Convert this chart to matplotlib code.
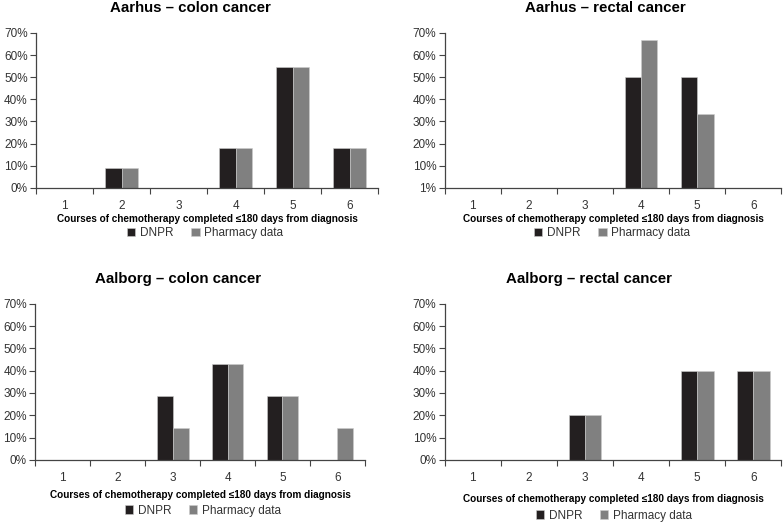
import numpy as np
import matplotlib
matplotlib.use("Agg")
import matplotlib.pyplot as plt

plt.rcParams['font.family'] = ['Liberation Sans', 'DejaVu Sans']

courses = [1, 2, 3, 4, 5, 6]

# percentages
aarhus_colon_dnpr = [0, 9.1, 0, 18.2, 54.5, 18.2]
aarhus_colon_pharm = [0, 9.1, 0, 18.2, 54.5, 18.2]
aarhus_rectal_dnpr = [0, 0, 0, 50.0, 50.0, 0]
aarhus_rectal_pharm = [0, 0, 0, 66.7, 33.3, 0]
aalborg_colon_dnpr = [0, 0, 28.6, 42.9, 28.6, 0]
aalborg_colon_pharm = [0, 0, 14.3, 42.9, 28.6, 14.3]
aalborg_rectal_dnpr = [0, 0, 20.0, 0, 40.0, 40.0]
aalborg_rectal_pharm = [0, 0, 20.0, 0, 40.0, 40.0]

ytick_vals = [0, 10, 20, 30, 40, 50, 60, 70]
ytick_labels = ['0%', '10%', '20%', '30%', '40%', '50%', '60%', '70%']
ytick_labels_typo = ['1%'] + ytick_labels[1:]  # the original panel says 1% at the bottom

xlabel = "Courses of chemotherapy completed \u2264180 days from diagnosis"

panels = [
    # title, dnpr, pharm, axes rect, title pos, yticklabels, legend pos, xlabel pad
    ("Aarhus \u2013 colon cancer", aarhus_colon_dnpr, aarhus_colon_pharm,
     [0.046, 0.640, 0.437, 0.297], (0.243, 0.985), ytick_labels, (0.262, 0.554), 1),
    ("Aarhus \u2013 rectal cancer", aarhus_rectal_dnpr, aarhus_rectal_pharm,
     [0.568, 0.640, 0.430, 0.297], (0.773, 0.985), ytick_labels_typo, (0.782, 0.554), 1),
    ("Aalborg \u2013 colon cancer", aalborg_colon_dnpr, aalborg_colon_pharm,
     [0.045, 0.119, 0.421, 0.299], (0.228, 0.465), ytick_labels, (0.259, 0.022), 4),
    ("Aalborg \u2013 rectal cancer", aalborg_rectal_dnpr, aalborg_rectal_pharm,
     [0.568, 0.119, 0.430, 0.299], (0.752, 0.465), ytick_labels, (0.784, 0.012), 7),
]

dnpr_color = '#231f20'
pharm_color = '#808080'
text_color = '#333333'

fig = plt.figure(figsize=(7.83, 5.22), dpi=100)

for title, dnpr, pharm, rect, tpos, ylabs, lpos, xpad in panels:
    ax = fig.add_axes(rect)
    x = np.arange(len(courses))
    w = 0.29
    b1 = ax.bar(x - w / 2, dnpr, width=w, color=dnpr_color, edgecolor='#cccccc',
                linewidth=0.4, label='DNPR')
    b2 = ax.bar(x + w / 2, pharm, width=w, color=pharm_color, edgecolor='#cccccc',
                linewidth=0.4, label='Pharmacy data')
    ax.set_xlim(-0.5, len(courses) - 0.5)
    ax.set_ylim(0, 70)
    ax.set_yticks(ytick_vals)
    ax.set_yticklabels(ylabs)
    # boundary ticks without labels, labels at the category centres
    ax.set_xticks(np.arange(len(courses) + 1) - 0.5)
    ax.set_xticklabels([])
    ax.set_xticks(x, minor=True)
    ax.set_xticklabels([str(c) for c in courses], minor=True)
    ax.tick_params(axis='x', which='minor', length=0, pad=9, labelsize=8.5,
                   labelcolor=text_color)
    ax.tick_params(axis='x', which='major', length=4, color='#444444')
    ax.tick_params(axis='y', length=4, pad=2, labelsize=8.5,
                   labelcolor=text_color, color='#444444')
    for s in ['top', 'right']:
        ax.spines[s].set_visible(False)
    for s in ['left', 'bottom']:
        ax.spines[s].set_color('#444444')
        ax.spines[s].set_linewidth(0.9)
    ax.set_xlabel(xlabel, fontsize=7.2, fontweight='bold', labelpad=xpad)
    fig.text(tpos[0], tpos[1], title, ha='center', va='center',
             fontsize=10.8, fontweight='bold')
    fig.legend(handles=[b1, b2], loc='center', bbox_to_anchor=lpos, ncol=2,
               frameon=False, fontsize=8.5, handlelength=0.7, handleheight=0.7,
               handletextpad=0.4, columnspacing=1.5, labelcolor=text_color,
               borderpad=0.1)

fig.savefig("out.png", dpi=100)
